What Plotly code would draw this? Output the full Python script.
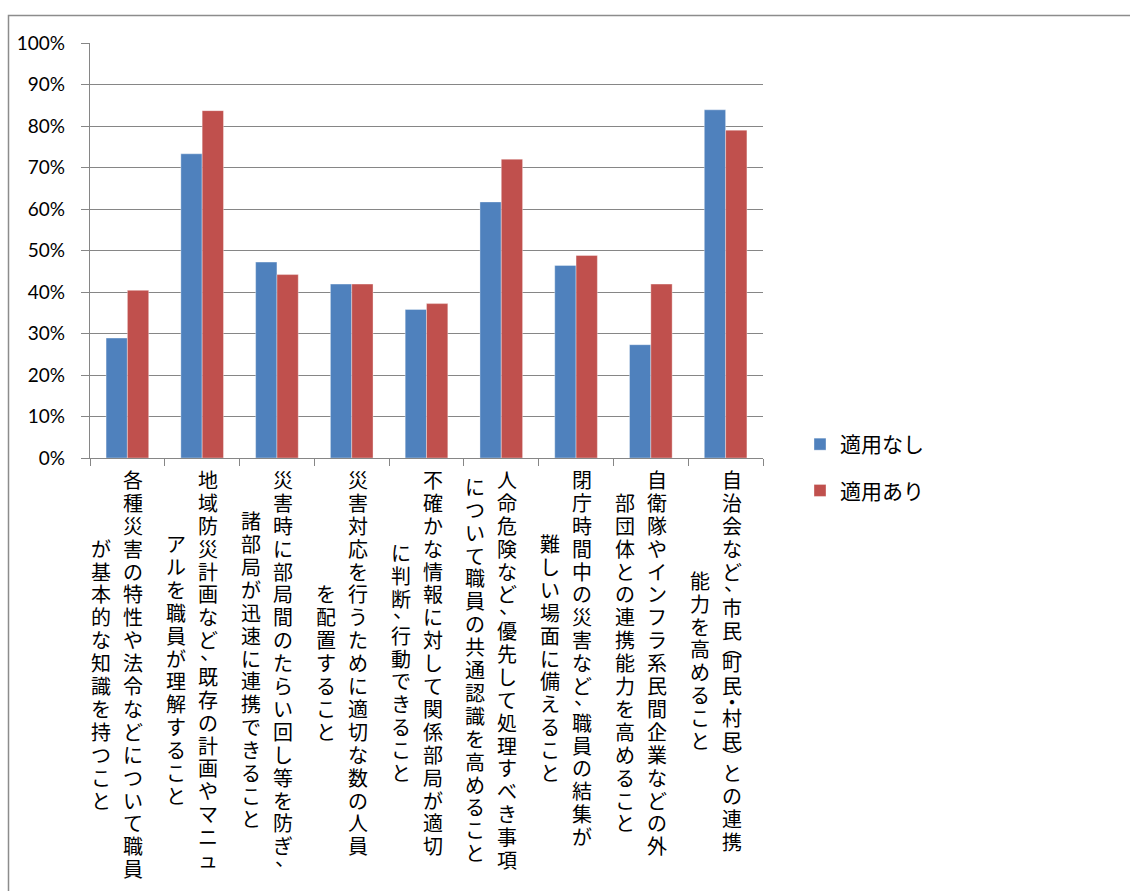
import plotly.graph_objects as go

# Category labels, written as vertical Japanese text in two columns
label_col1 = [
    "各種災害の特性や法令などについて職員",
    "地域防災計画など、既存の計画やマニュ",
    "災害時に部局間のたらい回し等を防ぎ、",
    "災害対応を行うために適切な数の人員",
    "不確かな情報に対して関係部局が適切",
    "人命危険など、優先して処理すべき事項",
    "閉庁時間中の災害など、職員の結集が",
    "自衛隊やインフラ系民間企業などの外",
    "自治会など、市民︵町民・村民︶との連携",
]
label_col2 = [
    "が基本的な知識を持つこと",
    "アルを職員が理解すること",
    "諸部局が迅速に連携できること",
    "を配置すること",
    "に判断、行動できること",
    "について職員の共通認識を高めること",
    "難しい場面に備えること",
    "部団体との連携能力を高めること",
    "能力を高めること",
]
categories = [a + b for a, b in zip(label_col1, label_col2)]

series_names = ["適用なし", "適用あり"]
no_apply = [0.289, 0.733, 0.472, 0.419, 0.358, 0.617, 0.464, 0.273, 0.839]
with_apply = [0.404, 0.837, 0.442, 0.419, 0.372, 0.720, 0.488, 0.419, 0.790]

y_ticks = [i / 10 for i in range(11)]
y_tick_text = [f"{i * 10}%" for i in range(11)]

BLUE = "#4F81BD"
RED = "#C0504D"
GRID = "#868686"

W, H = 1130, 891
PLOT_L, PLOT_R, PLOT_T, PLOT_B = 90, 763, 43, 458
PLOT_W = PLOT_R - PLOT_L
PLOT_H = PLOT_B - PLOT_T


def px_to_paper_x(px):
    return (px - PLOT_L) / PLOT_W


def px_to_paper_y(py):
    return (PLOT_B - py) / PLOT_H


fig = go.Figure()
fig.add_trace(go.Bar(
    x=categories, y=no_apply, name=series_names[0], legendgroup="a",
    marker=dict(color=BLUE, line=dict(color="rgba(255,255,255,0.45)", width=0.8)),
))
fig.add_trace(go.Bar(
    x=categories, y=with_apply, name=series_names[1], legendgroup="b",
    marker=dict(color=RED, line=dict(color="rgba(255,255,255,0.45)", width=0.8)),
))

# Vertical category labels: characters stacked top to bottom, first column
# on the right, second column centred against it.  Punctuation takes a
# narrower slot, as in proportional vertical typesetting.
LABEL_FONT = dict(family="Noto Sans CJK JP", size=20, color="black")
PITCH = 22.9
NARROW = {"、": 0.6, "・": 0.4, "︵": 0.4, "︶": 0.4}
# the ideographic comma sits low-left in its em box; pull it into its slot
NUDGE = {"、": (2, 7)}
LABEL_TOP = 468
COL_DX = [6, -26]


def slots(text):
    pos, out = 0.0, []
    for ch in text:
        adv = PITCH * NARROW.get(ch, 1.0)
        out.append((ch, pos + adv / 2))
        pos += adv
    return out, pos


annotations = []
for cat, c1, c2 in zip(categories, label_col1, label_col2):
    s1, len1 = slots(c1)
    s2, len2 = slots(c2)
    for col_slots, offset, dx in ((s1, 0.0, COL_DX[0]), (s2, (len1 - len2) / 2, COL_DX[1])):
        for ch, centre in col_slots:
            ndx, ndy = NUDGE.get(ch, (0, 0))
            py = LABEL_TOP + offset + centre
            annotations.append(dict(
                x=cat, xref="x", y=0, yref="paper",
                yshift=-(py - PLOT_B) + ndy, xshift=dx + ndx,
                text=ch, showarrow=False, font=LABEL_FONT, borderpad=0,
                xanchor="center", yanchor="middle",
            ))

# Outer chart border
shapes = [dict(
    type="rect", xref="paper", yref="paper",
    x0=px_to_paper_x(8.5), x1=px_to_paper_x(W + 10),
    y0=px_to_paper_y(H + 10), y1=px_to_paper_y(15.5),
    line=dict(color="#8c8c8c", width=1.5), fillcolor="rgba(0,0,0,0)", layer="below",
)]

fig.update_layout(
    width=W, height=H,
    margin=dict(l=PLOT_L, r=W - PLOT_R, t=PLOT_T, b=H - PLOT_B, pad=0),
    paper_bgcolor="white", plot_bgcolor="white",
    barmode="group", bargap=0.43, bargroupgap=0,
    showlegend=True,
    legend=dict(
        x=px_to_paper_x(800), xanchor="left",
        y=px_to_paper_y(424), yanchor="top",
        font=dict(family="Noto Sans CJK JP", size=21, color="black"),
        tracegroupgap=16, bgcolor="rgba(0,0,0,0)",
    ),
    xaxis=dict(
        type="category", showticklabels=False,
        ticks="outside", tickson="boundaries", ticklen=7, tickcolor=GRID, tickwidth=1.3,
        showline=True, linecolor=GRID, linewidth=1.3,
        showgrid=False, range=[-0.5, 8.5],
    ),
    yaxis=dict(
        range=[0, 1], tickvals=y_ticks, ticktext=y_tick_text,
        ticks="outside", ticklen=8, tickcolor=GRID, tickwidth=1.3,
        ticklabelstandoff=12,
        tickfont=dict(family="Lato", size=19, color="black"),
        showline=True, linecolor=GRID, linewidth=1.3,
        showgrid=True, gridcolor=GRID, gridwidth=1.3, zeroline=False,
    ),
    annotations=annotations,
    shapes=shapes,
)

fig.write_html("out.html")
